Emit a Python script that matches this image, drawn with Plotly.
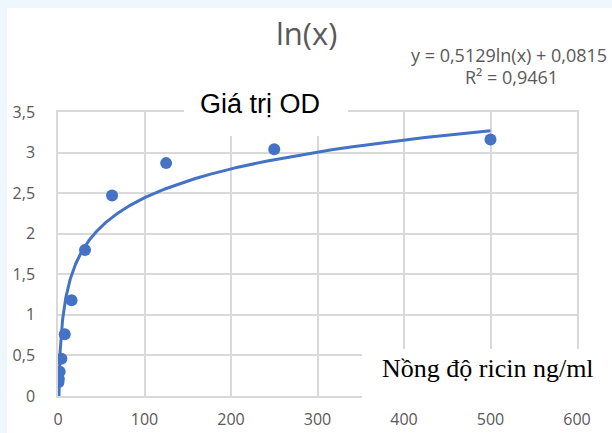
import numpy as np
import plotly.graph_objects as go

# ---- data ----
concentration = [500, 250, 125, 62.5, 31.25, 15.63, 7.81, 3.91, 1.95, 0.98, 0.49]
od_values = [3.16, 3.04, 2.87, 2.47, 1.80, 1.18, 0.76, 0.46, 0.30, 0.21, 0.17]
fit_a = 0.5129
fit_b = 0.0815
x_ticks = [0, 100, 200, 300, 400, 500, 600]
y_ticks = [0, 0.5, 1, 1.5, 2, 2.5, 3, 3.5]

title_text = "ln(x)"
equation_text = "y = 0,5129ln(x) + 0,0815"
r2_text = "R² = 0,9461"
series_label = "Giá trị OD"
x_label = "Nồng độ ricin ng/ml"

W, H = 612, 433
L, R, T, B = 58, 35, 112, 37
PW, PH = W - L - R, H - T - B


def px(x):
    return (x - L) / PW


def py(y):
    return (H - B - y) / PH


blue = "#4472c4"
grid = "#d9d9d9"
gray = "#595959"

xs = np.linspace(min(concentration), max(concentration), 2000)
ys = fit_a * np.log(xs) + fit_b

fig = go.Figure()
fig.add_trace(go.Scatter(x=xs, y=ys, mode="lines",
                         line=dict(color=blue, width=3), hoverinfo="skip"))
fig.add_trace(go.Scatter(x=concentration, y=od_values, mode="markers",
                         marker=dict(color=blue, size=12)))

fig.update_layout(
    width=W, height=H,
    margin=dict(l=L, r=R, t=T, b=B, pad=0, autoexpand=False),
    paper_bgcolor="white", plot_bgcolor="white",
    showlegend=False,
    separators=", ",
    font=dict(family="Open Sans", color=gray, size=17),
)
fig.update_xaxes(range=[0, 600], tickvals=x_ticks, showgrid=True,
                 gridcolor=grid, gridwidth=1.5, zeroline=False,
                 showline=True, linecolor=grid, linewidth=1.5, mirror=True,
                 ticks="", ticklabelstandoff=8, automargin=False,
                 tickfont=dict(family="Open Sans", size=16, color=gray))
fig.update_yaxes(range=[0, 3.5], tickvals=y_ticks, showgrid=True,
                 gridcolor=grid, gridwidth=1.5, zeroline=False,
                 showline=True, linecolor=grid, linewidth=1.5, mirror=True,
                 ticks="", ticklabelstandoff=18, automargin=False,
                 tickfont=dict(family="Open Sans", size=16, color=gray))

shapes = [
    # light blue frame strips
    dict(type="rect", xref="paper", yref="paper", x0=px(0), x1=px(7),
         y0=py(H), y1=py(0), fillcolor="#eef6fe", line=dict(width=0), layer="below"),
    dict(type="rect", xref="paper", yref="paper", x0=px(0), x1=px(W),
         y0=py(8), y1=py(0), fillcolor="#eef6fe", line=dict(width=0), layer="below"),
    # white text boxes covering the grid
    dict(type="rect", xref="paper", yref="paper", x0=px(184), x1=px(348),
         y0=py(136), y1=py(80), fillcolor="white", line=dict(width=0), layer="above"),
    dict(type="rect", xref="paper", yref="paper", x0=px(362), x1=px(W),
         y0=py(402), y1=py(349), fillcolor="white", line=dict(width=0), layer="above"),
]
fig.update_layout(shapes=shapes)

annotations = [
    dict(text=title_text, x=px(306), y=py(33), xref="paper", yref="paper",
         showarrow=False, xanchor="center", yanchor="middle",
         font=dict(family="Open Sans", size=31, color=gray)),
    dict(text=equation_text, x=px(609), y=py(55), xref="paper", yref="paper",
         showarrow=False, xanchor="right", yanchor="middle",
         font=dict(family="Open Sans", size=18, color=gray)),
    dict(text=r2_text, x=px(511), y=py(77), xref="paper", yref="paper",
         showarrow=False, xanchor="center", yanchor="middle",
         font=dict(family="Open Sans", size=18, color=gray)),
    dict(text=series_label, x=px(260), y=py(104), xref="paper", yref="paper",
         showarrow=False, xanchor="center", yanchor="middle",
         font=dict(family="Liberation Sans", size=27, color="black")),
    dict(text=x_label, x=px(488), y=py(368), xref="paper", yref="paper",
         showarrow=False, xanchor="center", yanchor="middle",
         font=dict(family="Liberation Serif", size=26, color="black")),
]
fig.update_layout(annotations=annotations)

fig.write_html("out.html", config={"displayModeBar": False},
               post_script="document.body.style.margin='0';")
